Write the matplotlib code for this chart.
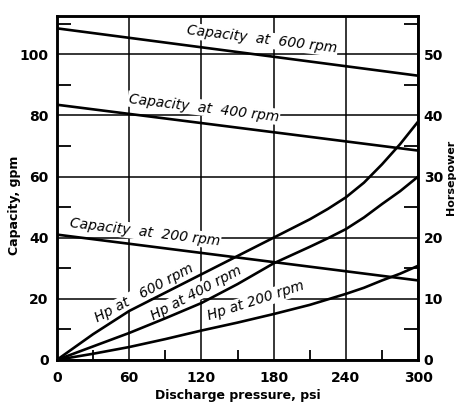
import matplotlib
matplotlib.use("Agg")
import matplotlib.pyplot as plt

# ---- data ----
pressure_ends = [0, 300]
cap_600 = [108.5, 93.0]
cap_400 = [83.5, 68.5]
cap_200 = [41.0, 26.0]

psi = [0, 30, 60, 90, 120, 150, 180, 210, 225, 240, 255, 270, 285, 300]
hp_600 = [0, 4.2, 8.0, 11.0, 14.0, 17.0, 20.0, 23.0, 24.7, 26.6, 29.0, 32.0, 35.3, 39.0]
hp_400 = [0, 2.2, 4.4, 6.8, 9.3, 12.4, 15.8, 18.5, 19.9, 21.4, 23.3, 25.5, 27.6, 30.0]
hp_200 = [0, 1.0, 2.1, 3.4, 4.8, 6.1, 7.5, 9.0, 9.9, 10.8, 11.8, 13.0, 14.1, 15.4]

x_ticks = [0, 60, 120, 180, 240, 300]
cap_ticks = [0, 20, 40, 60, 80, 100]
hp_ticks = [0, 10, 20, 30, 40, 50]

fig = plt.figure(figsize=(4.59, 4.03), dpi=100)
ax = fig.add_axes([0.124, 0.107, 0.787, 0.853])
ax2 = ax.twinx()

ax.set_xlim(0, 300)
ax.set_ylim(0, 112.5)
ax2.set_ylim(0, 56.25)

lw_curve = 1.9
ax.plot(pressure_ends, cap_600, color="black", lw=lw_curve, zorder=3)
ax.plot(pressure_ends, cap_400, color="black", lw=lw_curve, zorder=3)
ax.plot(pressure_ends, cap_200, color="black", lw=lw_curve, zorder=3)
ax2.plot(psi, hp_600, color="black", lw=lw_curve, solid_joinstyle="round")
ax2.plot(psi, hp_400, color="black", lw=lw_curve, solid_joinstyle="round")
ax2.plot(psi, hp_200, color="black", lw=lw_curve, solid_joinstyle="round")

# grid and ticks
ax.set_xticks(x_ticks)
ax.set_yticks(cap_ticks)
ax.grid(True, color="black", lw=1.1)
ax.set_xticks([30, 90, 150, 210, 270], minor=True)
ax.set_yticks([10, 30, 50, 70, 90, 110], minor=True)
ax2.set_yticks(hp_ticks)
ax2.set_yticks([5, 15, 25, 35, 45, 55], minor=True)

ax.tick_params(axis="both", which="major", length=0, pad=6)
ax.tick_params(axis="x", which="major", pad=8)
ax.tick_params(axis="x", which="minor", direction="in", length=7, width=1.3)
ax.tick_params(axis="y", which="minor", direction="in", length=10, width=1.3)
ax2.tick_params(axis="y", which="major", length=0, pad=4)
ax2.tick_params(axis="y", which="minor", direction="in", length=10, width=1.3)
for lab in ax.get_xticklabels() + ax.get_yticklabels() + ax2.get_yticklabels():
    lab.set_fontsize(10)
    lab.set_fontweight("bold")

for a in (ax, ax2):
    for s in a.spines.values():
        s.set_linewidth(1.8)

ax.set_xlabel("Discharge pressure, psi", fontsize=9, fontweight="bold", labelpad=3)
ax.set_ylabel("Capacity, gpm", fontsize=9, fontweight="bold")
ax.yaxis.set_label_coords(-0.1, 0.45)
ax2.set_ylabel("Horsepower", fontsize=8, fontweight="bold")
ax2.yaxis.set_label_coords(1.078, 0.53)

box = dict(facecolor="white", edgecolor="none", pad=0.8)
lab_kw = dict(fontsize=10, style="italic", ha="center", va="center",
              zorder=1.8, bbox=box)
ax.text(170, 104.8, "Capacity  at  600 rpm", rotation=-7, **lab_kw)
ax.text(122, 82.5, "Capacity  at  400 rpm", rotation=-7, **lab_kw)
ax.text(73, 41.8, "Capacity  at  200 rpm", rotation=-7, **lab_kw)
ax2.text(72, 10.9, "Hp at   600 rpm", rotation=28, **lab_kw)
ax2.text(116, 11.0, "Hp at 400 rpm", rotation=28, **lab_kw)
ax2.text(165, 9.6, "Hp at 200 rpm", rotation=18, **lab_kw)

fig.savefig("out.png", dpi=100)
